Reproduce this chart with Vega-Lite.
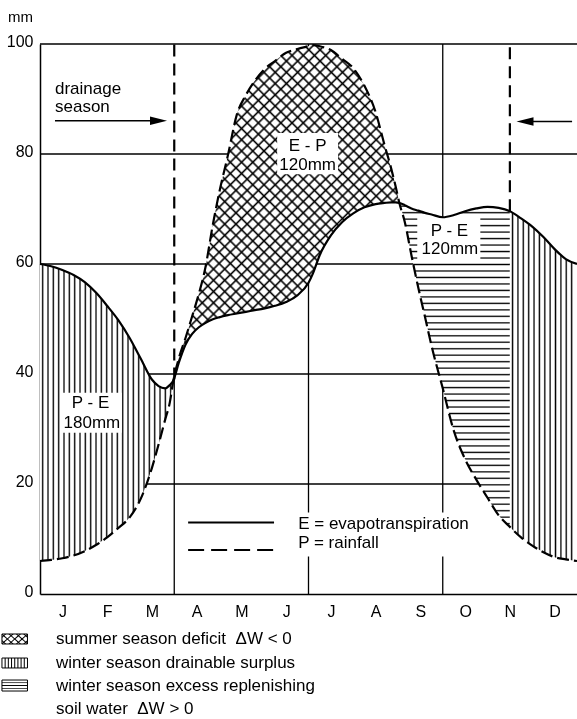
{
"$schema":"https://vega.github.io/schema/vega-lite/v6.json",
"width":537,"height":550,
"autosize":{"type":"none"},
"padding":{"left":40,"top":44,"right":0,"bottom":125},
"background":"white",
"config":{"view":{"stroke":null},"font":"Liberation Sans","axis":{"grid":false,"ticks":false,"domainColor":"black","domainWidth":1.5,"labelColor":"black","labelFont":"Liberation Sans","labelFontSize":16}},
"datasets":{
"curve":[
{"m":0,"E":60,"P":6},{"m":0.25,"E":59.6,"P":6.2},{"m":0.5,"E":58.9,"P":6.5},{"m":0.75,"E":58,"P":7},{"m":1,"E":56.7,"P":7.8},{"m":1.25,"E":54.8,"P":8.9},{"m":1.5,"E":52.4,"P":10.3},{"m":1.75,"E":49.8,"P":12},{"m":2,"E":46.6,"P":13.9},{"m":2.25,"E":42.8,"P":17.3},{"m":2.5,"E":39,"P":22.9},{"m":2.65,"E":37.8,"P":27.2},{"m":2.8,"E":37.4,"P":31.8},{"m":2.9,"E":38,"P":34.8},{"m":2.98,"E":38.8,"P":38.8},
{"m":3.1,"E":42,"P":42.8},{"m":3.25,"E":45.3,"P":46.5},{"m":3.4,"E":47.3,"P":50.5},{"m":3.55,"E":48.5,"P":54.6},{"m":3.7,"E":49.3,"P":59.5},{"m":3.85,"E":49.9,"P":66.6},{"m":4,"E":50.3,"P":72.8},{"m":4.2,"E":50.7,"P":79.8},{"m":4.4,"E":51,"P":87.2},{"m":4.6,"E":51.3,"P":90.7},{"m":4.8,"E":51.6,"P":93.3},{"m":5,"E":51.9,"P":95.3},{"m":5.25,"E":52.4,"P":96.9},{"m":5.5,"E":53.1,"P":98.4},{"m":5.75,"E":54.3,"P":99.1},{"m":6,"E":56.6,"P":99.6},{"m":6.1,"E":58.3,"P":99.8},{"m":6.25,"E":61.6,"P":99.6},{"m":6.5,"E":65.2,"P":98.9},{"m":6.75,"E":67.6,"P":97.3},{"m":7,"E":69.2,"P":95.6},{"m":7.25,"E":70.3,"P":92.4},{"m":7.5,"E":70.9,"P":87.6},{"m":7.7,"E":71.1,"P":81.6},{"m":7.85,"E":71.2,"P":77.3},{"m":7.95,"E":71.2,"P":74},{"m":8.03,"E":71.1,"P":71.1},
{"m":8.15,"E":70.7,"P":67.7},{"m":8.3,"E":70.1,"P":61.6},{"m":8.45,"E":69.7,"P":55.8},{"m":8.6,"E":69.3,"P":50.5},{"m":8.75,"E":69,"P":45.1},{"m":9,"E":68.5,"P":37.4},{"m":9.25,"E":68.9,"P":29.6},{"m":9.5,"E":69.6,"P":24.5},{"m":9.75,"E":70.1,"P":20.8},{"m":10,"E":70.4,"P":17.5},{"m":10.25,"E":70.2,"P":14.3},{"m":10.5,"E":69.6,"P":12.2},
{"m":10.75,"E":68.3,"P":10.3},{"m":11,"E":66.8,"P":8.8},{"m":11.25,"E":64.9,"P":7.6},{"m":11.5,"E":62.7,"P":6.7},{"m":11.75,"E":60.9,"P":6.3},{"m":12,"E":60,"P":6}],
"grid":[{"m":0,"m2":12,"v":100,"v2":100},{"m":0,"m2":12,"v":80,"v2":80},{"m":0,"m2":12,"v":60,"v2":60},{"m":0,"m2":12,"v":40,"v2":40},{"m":0,"m2":12,"v":20,"v2":20},{"m":3,"m2":3,"v":0,"v2":39},{"m":6,"m2":6,"v":0,"v2":100},{"m":9,"m2":9,"v":0,"v2":100}],
"dashv":[{"m":3,"m2":3,"v":39,"v2":100},{"m":10.5,"m2":10.5,"v":69.6,"v2":100}],
"arrows":[{"m":0.335,"m2":2.6,"v":86.05},{"m":10.84,"m2":11.89,"v":85.9}],
"heads":[{"dir":"right","m":2.648,"v":86.05},{"dir":"left","m":10.838,"v":85.9}],
"keys":[{"k":"E","m":3.31,"m2":5.23,"v":13},{"k":"P","m":3.31,"m2":5.23,"v":8}],
"boxes":[{"m":5.3,"m2":6.66,"v":76.3,"v2":83.8},{"m":0.49,"m2":1.83,"v":29.3,"v2":36.6},{"m":8.43,"m2":9.84,"v":60.4,"v2":68.4},{"m":5.62,"m2":9.72,"v":6.8,"v2":14.8}],
"lboxes":[{"kind":"cross","m":-0.85,"m2":-0.28,"v":-7.27,"v2":-9.09},{"kind":"vert","m":-0.85,"m2":-0.28,"v":-11.64,"v2":-13.45},{"kind":"horz","m":-0.85,"m2":-0.28,"v":-15.64,"v2":-17.64}],
"labels":[
{"t":"drainage","m":0.335,"v":91.8,"grp":"side"},
{"t":"season","m":0.335,"v":88.5,"grp":"side"},
{"t":"E = evapotranspiration","m":5.77,"v":12.8,"grp":"side"},
{"t":"P = rainfall","m":5.77,"v":9.2,"grp":"side"},
{"t":"summer season deficit\u00a0\u00a0ΔW < 0","m":0.358,"v":-8.18,"grp":"side"},
{"t":"winter season drainable surplus","m":0.358,"v":-12.55,"grp":"side"},
{"t":"winter season excess replenishing","m":0.358,"v":-16.73,"grp":"side"},
{"t":"soil water\u00a0\u00a0ΔW > 0","m":0.358,"v":-20.91,"grp":"side"},
{"t":"E - P","m":5.98,"v":81.5,"grp":"mid"},
{"t":"120mm","m":5.98,"v":78,"grp":"mid"},
{"t":"P - E","m":1.13,"v":34.7,"grp":"mid"},
{"t":"180mm","m":1.16,"v":31.1,"grp":"mid"},
{"t":"P - E","m":9.15,"v":66,"grp":"mid"},
{"t":"120mm","m":9.16,"v":62.7,"grp":"mid"}]
},
"encoding":{
"x":{"field":"m","type":"quantitative","scale":{"domain":[0,12],"nice":false,"zero":false},"axis":{"orient":"bottom","title":null,"values":[0.5,1.5,2.5,3.5,4.5,5.5,6.5,7.5,8.5,9.5,10.5,11.5],"labelExpr":"['J','F','M','A','M','J','J','A','S','O','N','D'][floor(datum.value)]","labelPadding":9,"labelFlush":false}},
"y":{"field":"v","type":"quantitative","scale":{"domain":[0,100],"nice":false,"zero":false},"axis":{"values":[0,20,40,60,80,100],"labelPadding":7,"labelOffset":-3,"labelFlush":false,"title":"mm","titleAngle":0,"titleX":-20,"titleY":-28,"titleFontSize":15,"titleFontWeight":"normal","titleAlign":"center","titleBaseline":"middle","titleFont":"Liberation Sans","titleColor":"black"}}
},
"layer":[
{"data":{"name":"grid"},"mark":{"type":"rule","color":"black","strokeWidth":1.3},"encoding":{"x2":{"field":"m2"},"y2":{"field":"v2"}}},
{"data":{"name":"curve"},"transform":[{"filter":"datum.m <= 2.98"}],"mark":{"type":"area","interpolate":"monotone","fillOpacity":1,"fill":{"gradient":"linear","x1":0,"y1":0,"x2":1,"y2":0,"stops":[
{"offset":0.01,"color":"#fff"},{"offset":0.02,"color":"#000"},{"offset":0.03,"color":"#fff"},
{"offset":0.05,"color":"#fff"},{"offset":0.06,"color":"#000"},{"offset":0.07,"color":"#fff"},
{"offset":0.09,"color":"#fff"},{"offset":0.1,"color":"#000"},{"offset":0.11,"color":"#fff"},
{"offset":0.13,"color":"#fff"},{"offset":0.14,"color":"#000"},{"offset":0.15,"color":"#fff"},
{"offset":0.17,"color":"#fff"},{"offset":0.18,"color":"#000"},{"offset":0.19,"color":"#fff"},
{"offset":0.21,"color":"#fff"},{"offset":0.22,"color":"#000"},{"offset":0.23,"color":"#fff"},
{"offset":0.25,"color":"#fff"},{"offset":0.26,"color":"#000"},{"offset":0.27,"color":"#fff"},
{"offset":0.29,"color":"#fff"},{"offset":0.3,"color":"#000"},{"offset":0.31,"color":"#fff"},
{"offset":0.33,"color":"#fff"},{"offset":0.34,"color":"#000"},{"offset":0.35,"color":"#fff"},
{"offset":0.37,"color":"#fff"},{"offset":0.38,"color":"#000"},{"offset":0.39,"color":"#fff"},
{"offset":0.41,"color":"#fff"},{"offset":0.42,"color":"#000"},{"offset":0.43,"color":"#fff"},
{"offset":0.45,"color":"#fff"},{"offset":0.46,"color":"#000"},{"offset":0.47,"color":"#fff"},
{"offset":0.49,"color":"#fff"},{"offset":0.5,"color":"#000"},{"offset":0.51,"color":"#fff"},
{"offset":0.53,"color":"#fff"},{"offset":0.54,"color":"#000"},{"offset":0.55,"color":"#fff"},
{"offset":0.57,"color":"#fff"},{"offset":0.58,"color":"#000"},{"offset":0.59,"color":"#fff"},
{"offset":0.61,"color":"#fff"},{"offset":0.62,"color":"#000"},{"offset":0.63,"color":"#fff"},
{"offset":0.65,"color":"#fff"},{"offset":0.66,"color":"#000"},{"offset":0.67,"color":"#fff"},
{"offset":0.69,"color":"#fff"},{"offset":0.7,"color":"#000"},{"offset":0.71,"color":"#fff"},
{"offset":0.73,"color":"#fff"},{"offset":0.74,"color":"#000"},{"offset":0.75,"color":"#fff"},
{"offset":0.77,"color":"#fff"},{"offset":0.78,"color":"#000"},{"offset":0.79,"color":"#fff"},
{"offset":0.81,"color":"#fff"},{"offset":0.82,"color":"#000"},{"offset":0.83,"color":"#fff"},
{"offset":0.85,"color":"#fff"},{"offset":0.86,"color":"#000"},{"offset":0.87,"color":"#fff"},
{"offset":0.89,"color":"#fff"},{"offset":0.9,"color":"#000"},{"offset":0.91,"color":"#fff"},
{"offset":0.93,"color":"#fff"},{"offset":0.94,"color":"#000"},{"offset":0.95,"color":"#fff"},
{"offset":0.97,"color":"#fff"},{"offset":0.98,"color":"#000"},{"offset":0.99,"color":"#fff"}]}},
"encoding":{"y":{"field":"E","type":"quantitative","scale":{"domain":[0,100],"nice":false,"zero":false},"axis":{"values":[0,20,40,60,80,100],"labelPadding":7,"labelOffset":-3,"labelFlush":false,"title":"mm","titleAngle":0,"titleX":-20,"titleY":-28,"titleFontSize":15,"titleFontWeight":"normal","titleAlign":"center","titleBaseline":"middle","titleFont":"Liberation Sans","titleColor":"black"}},"y2":{"field":"P"}}},
{"data":{"name":"curve"},"transform":[{"filter":"datum.m >= 2.98 && datum.m <= 8.03"}],"mark":{"type":"area","interpolate":"monotone","fillOpacity":1,"fill":{"gradient":"linear","x1":0,"y1":0,"x2":0.777,"y2":1.151,"stops":[
{"offset":0.006,"color":"#fff"},{"offset":0.01,"color":"#000"},{"offset":0.014,"color":"#fff"},
{"offset":0.026,"color":"#fff"},{"offset":0.03,"color":"#000"},{"offset":0.034,"color":"#fff"},
{"offset":0.046,"color":"#fff"},{"offset":0.05,"color":"#000"},{"offset":0.054,"color":"#fff"},
{"offset":0.066,"color":"#fff"},{"offset":0.07,"color":"#000"},{"offset":0.074,"color":"#fff"},
{"offset":0.086,"color":"#fff"},{"offset":0.09,"color":"#000"},{"offset":0.094,"color":"#fff"},
{"offset":0.106,"color":"#fff"},{"offset":0.11,"color":"#000"},{"offset":0.114,"color":"#fff"},
{"offset":0.126,"color":"#fff"},{"offset":0.13,"color":"#000"},{"offset":0.134,"color":"#fff"},
{"offset":0.146,"color":"#fff"},{"offset":0.15,"color":"#000"},{"offset":0.154,"color":"#fff"},
{"offset":0.166,"color":"#fff"},{"offset":0.17,"color":"#000"},{"offset":0.174,"color":"#fff"},
{"offset":0.186,"color":"#fff"},{"offset":0.19,"color":"#000"},{"offset":0.194,"color":"#fff"},
{"offset":0.206,"color":"#fff"},{"offset":0.21,"color":"#000"},{"offset":0.214,"color":"#fff"},
{"offset":0.226,"color":"#fff"},{"offset":0.23,"color":"#000"},{"offset":0.234,"color":"#fff"},
{"offset":0.246,"color":"#fff"},{"offset":0.25,"color":"#000"},{"offset":0.254,"color":"#fff"},
{"offset":0.266,"color":"#fff"},{"offset":0.27,"color":"#000"},{"offset":0.274,"color":"#fff"},
{"offset":0.286,"color":"#fff"},{"offset":0.29,"color":"#000"},{"offset":0.294,"color":"#fff"},
{"offset":0.306,"color":"#fff"},{"offset":0.31,"color":"#000"},{"offset":0.314,"color":"#fff"},
{"offset":0.326,"color":"#fff"},{"offset":0.33,"color":"#000"},{"offset":0.334,"color":"#fff"},
{"offset":0.346,"color":"#fff"},{"offset":0.35,"color":"#000"},{"offset":0.354,"color":"#fff"},
{"offset":0.366,"color":"#fff"},{"offset":0.37,"color":"#000"},{"offset":0.374,"color":"#fff"},
{"offset":0.386,"color":"#fff"},{"offset":0.39,"color":"#000"},{"offset":0.394,"color":"#fff"},
{"offset":0.406,"color":"#fff"},{"offset":0.41,"color":"#000"},{"offset":0.414,"color":"#fff"},
{"offset":0.426,"color":"#fff"},{"offset":0.43,"color":"#000"},{"offset":0.434,"color":"#fff"},
{"offset":0.446,"color":"#fff"},{"offset":0.45,"color":"#000"},{"offset":0.454,"color":"#fff"},
{"offset":0.466,"color":"#fff"},{"offset":0.47,"color":"#000"},{"offset":0.474,"color":"#fff"},
{"offset":0.486,"color":"#fff"},{"offset":0.49,"color":"#000"},{"offset":0.494,"color":"#fff"},
{"offset":0.506,"color":"#fff"},{"offset":0.51,"color":"#000"},{"offset":0.514,"color":"#fff"},
{"offset":0.526,"color":"#fff"},{"offset":0.53,"color":"#000"},{"offset":0.534,"color":"#fff"},
{"offset":0.546,"color":"#fff"},{"offset":0.55,"color":"#000"},{"offset":0.554,"color":"#fff"},
{"offset":0.566,"color":"#fff"},{"offset":0.57,"color":"#000"},{"offset":0.574,"color":"#fff"},
{"offset":0.586,"color":"#fff"},{"offset":0.59,"color":"#000"},{"offset":0.594,"color":"#fff"},
{"offset":0.606,"color":"#fff"},{"offset":0.61,"color":"#000"},{"offset":0.614,"color":"#fff"},
{"offset":0.626,"color":"#fff"},{"offset":0.63,"color":"#000"},{"offset":0.634,"color":"#fff"},
{"offset":0.646,"color":"#fff"},{"offset":0.65,"color":"#000"},{"offset":0.654,"color":"#fff"},
{"offset":0.666,"color":"#fff"},{"offset":0.67,"color":"#000"},{"offset":0.674,"color":"#fff"},
{"offset":0.686,"color":"#fff"},{"offset":0.69,"color":"#000"},{"offset":0.694,"color":"#fff"},
{"offset":0.706,"color":"#fff"},{"offset":0.71,"color":"#000"},{"offset":0.714,"color":"#fff"},
{"offset":0.726,"color":"#fff"},{"offset":0.73,"color":"#000"},{"offset":0.734,"color":"#fff"},
{"offset":0.746,"color":"#fff"},{"offset":0.75,"color":"#000"},{"offset":0.754,"color":"#fff"},
{"offset":0.766,"color":"#fff"},{"offset":0.77,"color":"#000"},{"offset":0.774,"color":"#fff"},
{"offset":0.786,"color":"#fff"},{"offset":0.79,"color":"#000"},{"offset":0.794,"color":"#fff"},
{"offset":0.806,"color":"#fff"},{"offset":0.81,"color":"#000"},{"offset":0.814,"color":"#fff"},
{"offset":0.826,"color":"#fff"},{"offset":0.83,"color":"#000"},{"offset":0.834,"color":"#fff"},
{"offset":0.846,"color":"#fff"},{"offset":0.85,"color":"#000"},{"offset":0.854,"color":"#fff"},
{"offset":0.866,"color":"#fff"},{"offset":0.87,"color":"#000"},{"offset":0.874,"color":"#fff"},
{"offset":0.886,"color":"#fff"},{"offset":0.89,"color":"#000"},{"offset":0.894,"color":"#fff"},
{"offset":0.906,"color":"#fff"},{"offset":0.91,"color":"#000"},{"offset":0.914,"color":"#fff"},
{"offset":0.926,"color":"#fff"},{"offset":0.93,"color":"#000"},{"offset":0.934,"color":"#fff"},
{"offset":0.946,"color":"#fff"},{"offset":0.95,"color":"#000"},{"offset":0.954,"color":"#fff"},
{"offset":0.966,"color":"#fff"},{"offset":0.97,"color":"#000"},{"offset":0.974,"color":"#fff"},
{"offset":0.986,"color":"#fff"},{"offset":0.99,"color":"#000"},{"offset":0.994,"color":"#fff"}]}},
"encoding":{"y":{"field":"E","type":"quantitative","scale":{"domain":[0,100],"nice":false,"zero":false},"axis":{"values":[0,20,40,60,80,100],"labelPadding":7,"labelOffset":-3,"labelFlush":false,"title":"mm","titleAngle":0,"titleX":-20,"titleY":-28,"titleFontSize":15,"titleFontWeight":"normal","titleAlign":"center","titleBaseline":"middle","titleFont":"Liberation Sans","titleColor":"black"}},"y2":{"field":"P"}}},
{"data":{"name":"curve"},"transform":[{"filter":"datum.m >= 2.98 && datum.m <= 8.03"}],"mark":{"type":"area","interpolate":"monotone","fillOpacity":1,"blend":"multiply","fill":{"gradient":"linear","x1":0,"y1":1,"x2":0.777,"y2":-0.151,"stops":[
{"offset":0.006,"color":"#fff"},{"offset":0.01,"color":"#000"},{"offset":0.014,"color":"#fff"},
{"offset":0.026,"color":"#fff"},{"offset":0.03,"color":"#000"},{"offset":0.034,"color":"#fff"},
{"offset":0.046,"color":"#fff"},{"offset":0.05,"color":"#000"},{"offset":0.054,"color":"#fff"},
{"offset":0.066,"color":"#fff"},{"offset":0.07,"color":"#000"},{"offset":0.074,"color":"#fff"},
{"offset":0.086,"color":"#fff"},{"offset":0.09,"color":"#000"},{"offset":0.094,"color":"#fff"},
{"offset":0.106,"color":"#fff"},{"offset":0.11,"color":"#000"},{"offset":0.114,"color":"#fff"},
{"offset":0.126,"color":"#fff"},{"offset":0.13,"color":"#000"},{"offset":0.134,"color":"#fff"},
{"offset":0.146,"color":"#fff"},{"offset":0.15,"color":"#000"},{"offset":0.154,"color":"#fff"},
{"offset":0.166,"color":"#fff"},{"offset":0.17,"color":"#000"},{"offset":0.174,"color":"#fff"},
{"offset":0.186,"color":"#fff"},{"offset":0.19,"color":"#000"},{"offset":0.194,"color":"#fff"},
{"offset":0.206,"color":"#fff"},{"offset":0.21,"color":"#000"},{"offset":0.214,"color":"#fff"},
{"offset":0.226,"color":"#fff"},{"offset":0.23,"color":"#000"},{"offset":0.234,"color":"#fff"},
{"offset":0.246,"color":"#fff"},{"offset":0.25,"color":"#000"},{"offset":0.254,"color":"#fff"},
{"offset":0.266,"color":"#fff"},{"offset":0.27,"color":"#000"},{"offset":0.274,"color":"#fff"},
{"offset":0.286,"color":"#fff"},{"offset":0.29,"color":"#000"},{"offset":0.294,"color":"#fff"},
{"offset":0.306,"color":"#fff"},{"offset":0.31,"color":"#000"},{"offset":0.314,"color":"#fff"},
{"offset":0.326,"color":"#fff"},{"offset":0.33,"color":"#000"},{"offset":0.334,"color":"#fff"},
{"offset":0.346,"color":"#fff"},{"offset":0.35,"color":"#000"},{"offset":0.354,"color":"#fff"},
{"offset":0.366,"color":"#fff"},{"offset":0.37,"color":"#000"},{"offset":0.374,"color":"#fff"},
{"offset":0.386,"color":"#fff"},{"offset":0.39,"color":"#000"},{"offset":0.394,"color":"#fff"},
{"offset":0.406,"color":"#fff"},{"offset":0.41,"color":"#000"},{"offset":0.414,"color":"#fff"},
{"offset":0.426,"color":"#fff"},{"offset":0.43,"color":"#000"},{"offset":0.434,"color":"#fff"},
{"offset":0.446,"color":"#fff"},{"offset":0.45,"color":"#000"},{"offset":0.454,"color":"#fff"},
{"offset":0.466,"color":"#fff"},{"offset":0.47,"color":"#000"},{"offset":0.474,"color":"#fff"},
{"offset":0.486,"color":"#fff"},{"offset":0.49,"color":"#000"},{"offset":0.494,"color":"#fff"},
{"offset":0.506,"color":"#fff"},{"offset":0.51,"color":"#000"},{"offset":0.514,"color":"#fff"},
{"offset":0.526,"color":"#fff"},{"offset":0.53,"color":"#000"},{"offset":0.534,"color":"#fff"},
{"offset":0.546,"color":"#fff"},{"offset":0.55,"color":"#000"},{"offset":0.554,"color":"#fff"},
{"offset":0.566,"color":"#fff"},{"offset":0.57,"color":"#000"},{"offset":0.574,"color":"#fff"},
{"offset":0.586,"color":"#fff"},{"offset":0.59,"color":"#000"},{"offset":0.594,"color":"#fff"},
{"offset":0.606,"color":"#fff"},{"offset":0.61,"color":"#000"},{"offset":0.614,"color":"#fff"},
{"offset":0.626,"color":"#fff"},{"offset":0.63,"color":"#000"},{"offset":0.634,"color":"#fff"},
{"offset":0.646,"color":"#fff"},{"offset":0.65,"color":"#000"},{"offset":0.654,"color":"#fff"},
{"offset":0.666,"color":"#fff"},{"offset":0.67,"color":"#000"},{"offset":0.674,"color":"#fff"},
{"offset":0.686,"color":"#fff"},{"offset":0.69,"color":"#000"},{"offset":0.694,"color":"#fff"},
{"offset":0.706,"color":"#fff"},{"offset":0.71,"color":"#000"},{"offset":0.714,"color":"#fff"},
{"offset":0.726,"color":"#fff"},{"offset":0.73,"color":"#000"},{"offset":0.734,"color":"#fff"},
{"offset":0.746,"color":"#fff"},{"offset":0.75,"color":"#000"},{"offset":0.754,"color":"#fff"},
{"offset":0.766,"color":"#fff"},{"offset":0.77,"color":"#000"},{"offset":0.774,"color":"#fff"},
{"offset":0.786,"color":"#fff"},{"offset":0.79,"color":"#000"},{"offset":0.794,"color":"#fff"},
{"offset":0.806,"color":"#fff"},{"offset":0.81,"color":"#000"},{"offset":0.814,"color":"#fff"},
{"offset":0.826,"color":"#fff"},{"offset":0.83,"color":"#000"},{"offset":0.834,"color":"#fff"},
{"offset":0.846,"color":"#fff"},{"offset":0.85,"color":"#000"},{"offset":0.854,"color":"#fff"},
{"offset":0.866,"color":"#fff"},{"offset":0.87,"color":"#000"},{"offset":0.874,"color":"#fff"},
{"offset":0.886,"color":"#fff"},{"offset":0.89,"color":"#000"},{"offset":0.894,"color":"#fff"},
{"offset":0.906,"color":"#fff"},{"offset":0.91,"color":"#000"},{"offset":0.914,"color":"#fff"},
{"offset":0.926,"color":"#fff"},{"offset":0.93,"color":"#000"},{"offset":0.934,"color":"#fff"},
{"offset":0.946,"color":"#fff"},{"offset":0.95,"color":"#000"},{"offset":0.954,"color":"#fff"},
{"offset":0.966,"color":"#fff"},{"offset":0.97,"color":"#000"},{"offset":0.974,"color":"#fff"},
{"offset":0.986,"color":"#fff"},{"offset":0.99,"color":"#000"},{"offset":0.994,"color":"#fff"}]}},
"encoding":{"y":{"field":"E","type":"quantitative","scale":{"domain":[0,100],"nice":false,"zero":false},"axis":{"values":[0,20,40,60,80,100],"labelPadding":7,"labelOffset":-3,"labelFlush":false,"title":"mm","titleAngle":0,"titleX":-20,"titleY":-28,"titleFontSize":15,"titleFontWeight":"normal","titleAlign":"center","titleBaseline":"middle","titleFont":"Liberation Sans","titleColor":"black"}},"y2":{"field":"P"}}},
{"data":{"name":"curve"},"transform":[{"filter":"datum.m >= 8.03 && datum.m <= 10.5"}],"mark":{"type":"area","interpolate":"monotone","fillOpacity":1,"fill":{"gradient":"linear","x1":0,"y1":0,"x2":0,"y2":1,"stops":[
{"offset":0.006,"color":"#fff"},{"offset":0.01,"color":"#000"},{"offset":0.014,"color":"#fff"},
{"offset":0.026,"color":"#fff"},{"offset":0.03,"color":"#000"},{"offset":0.034,"color":"#fff"},
{"offset":0.046,"color":"#fff"},{"offset":0.05,"color":"#000"},{"offset":0.054,"color":"#fff"},
{"offset":0.066,"color":"#fff"},{"offset":0.07,"color":"#000"},{"offset":0.074,"color":"#fff"},
{"offset":0.086,"color":"#fff"},{"offset":0.09,"color":"#000"},{"offset":0.094,"color":"#fff"},
{"offset":0.106,"color":"#fff"},{"offset":0.11,"color":"#000"},{"offset":0.114,"color":"#fff"},
{"offset":0.126,"color":"#fff"},{"offset":0.13,"color":"#000"},{"offset":0.134,"color":"#fff"},
{"offset":0.146,"color":"#fff"},{"offset":0.15,"color":"#000"},{"offset":0.154,"color":"#fff"},
{"offset":0.166,"color":"#fff"},{"offset":0.17,"color":"#000"},{"offset":0.174,"color":"#fff"},
{"offset":0.186,"color":"#fff"},{"offset":0.19,"color":"#000"},{"offset":0.194,"color":"#fff"},
{"offset":0.206,"color":"#fff"},{"offset":0.21,"color":"#000"},{"offset":0.214,"color":"#fff"},
{"offset":0.226,"color":"#fff"},{"offset":0.23,"color":"#000"},{"offset":0.234,"color":"#fff"},
{"offset":0.246,"color":"#fff"},{"offset":0.25,"color":"#000"},{"offset":0.254,"color":"#fff"},
{"offset":0.266,"color":"#fff"},{"offset":0.27,"color":"#000"},{"offset":0.274,"color":"#fff"},
{"offset":0.286,"color":"#fff"},{"offset":0.29,"color":"#000"},{"offset":0.294,"color":"#fff"},
{"offset":0.306,"color":"#fff"},{"offset":0.31,"color":"#000"},{"offset":0.314,"color":"#fff"},
{"offset":0.326,"color":"#fff"},{"offset":0.33,"color":"#000"},{"offset":0.334,"color":"#fff"},
{"offset":0.346,"color":"#fff"},{"offset":0.35,"color":"#000"},{"offset":0.354,"color":"#fff"},
{"offset":0.366,"color":"#fff"},{"offset":0.37,"color":"#000"},{"offset":0.374,"color":"#fff"},
{"offset":0.386,"color":"#fff"},{"offset":0.39,"color":"#000"},{"offset":0.394,"color":"#fff"},
{"offset":0.406,"color":"#fff"},{"offset":0.41,"color":"#000"},{"offset":0.414,"color":"#fff"},
{"offset":0.426,"color":"#fff"},{"offset":0.43,"color":"#000"},{"offset":0.434,"color":"#fff"},
{"offset":0.446,"color":"#fff"},{"offset":0.45,"color":"#000"},{"offset":0.454,"color":"#fff"},
{"offset":0.466,"color":"#fff"},{"offset":0.47,"color":"#000"},{"offset":0.474,"color":"#fff"},
{"offset":0.486,"color":"#fff"},{"offset":0.49,"color":"#000"},{"offset":0.494,"color":"#fff"},
{"offset":0.506,"color":"#fff"},{"offset":0.51,"color":"#000"},{"offset":0.514,"color":"#fff"},
{"offset":0.526,"color":"#fff"},{"offset":0.53,"color":"#000"},{"offset":0.534,"color":"#fff"},
{"offset":0.546,"color":"#fff"},{"offset":0.55,"color":"#000"},{"offset":0.554,"color":"#fff"},
{"offset":0.566,"color":"#fff"},{"offset":0.57,"color":"#000"},{"offset":0.574,"color":"#fff"},
{"offset":0.586,"color":"#fff"},{"offset":0.59,"color":"#000"},{"offset":0.594,"color":"#fff"},
{"offset":0.606,"color":"#fff"},{"offset":0.61,"color":"#000"},{"offset":0.614,"color":"#fff"},
{"offset":0.626,"color":"#fff"},{"offset":0.63,"color":"#000"},{"offset":0.634,"color":"#fff"},
{"offset":0.646,"color":"#fff"},{"offset":0.65,"color":"#000"},{"offset":0.654,"color":"#fff"},
{"offset":0.666,"color":"#fff"},{"offset":0.67,"color":"#000"},{"offset":0.674,"color":"#fff"},
{"offset":0.686,"color":"#fff"},{"offset":0.69,"color":"#000"},{"offset":0.694,"color":"#fff"},
{"offset":0.706,"color":"#fff"},{"offset":0.71,"color":"#000"},{"offset":0.714,"color":"#fff"},
{"offset":0.726,"color":"#fff"},{"offset":0.73,"color":"#000"},{"offset":0.734,"color":"#fff"},
{"offset":0.746,"color":"#fff"},{"offset":0.75,"color":"#000"},{"offset":0.754,"color":"#fff"},
{"offset":0.766,"color":"#fff"},{"offset":0.77,"color":"#000"},{"offset":0.774,"color":"#fff"},
{"offset":0.786,"color":"#fff"},{"offset":0.79,"color":"#000"},{"offset":0.794,"color":"#fff"},
{"offset":0.806,"color":"#fff"},{"offset":0.81,"color":"#000"},{"offset":0.814,"color":"#fff"},
{"offset":0.826,"color":"#fff"},{"offset":0.83,"color":"#000"},{"offset":0.834,"color":"#fff"},
{"offset":0.846,"color":"#fff"},{"offset":0.85,"color":"#000"},{"offset":0.854,"color":"#fff"},
{"offset":0.866,"color":"#fff"},{"offset":0.87,"color":"#000"},{"offset":0.874,"color":"#fff"},
{"offset":0.886,"color":"#fff"},{"offset":0.89,"color":"#000"},{"offset":0.894,"color":"#fff"},
{"offset":0.906,"color":"#fff"},{"offset":0.91,"color":"#000"},{"offset":0.914,"color":"#fff"},
{"offset":0.926,"color":"#fff"},{"offset":0.93,"color":"#000"},{"offset":0.934,"color":"#fff"},
{"offset":0.946,"color":"#fff"},{"offset":0.95,"color":"#000"},{"offset":0.954,"color":"#fff"},
{"offset":0.966,"color":"#fff"},{"offset":0.97,"color":"#000"},{"offset":0.974,"color":"#fff"},
{"offset":0.986,"color":"#fff"},{"offset":0.99,"color":"#000"},{"offset":0.994,"color":"#fff"}]}},
"encoding":{"y":{"field":"E","type":"quantitative","scale":{"domain":[0,100],"nice":false,"zero":false},"axis":{"values":[0,20,40,60,80,100],"labelPadding":7,"labelOffset":-3,"labelFlush":false,"title":"mm","titleAngle":0,"titleX":-20,"titleY":-28,"titleFontSize":15,"titleFontWeight":"normal","titleAlign":"center","titleBaseline":"middle","titleFont":"Liberation Sans","titleColor":"black"}},"y2":{"field":"P"}}},
{"data":{"name":"curve"},"transform":[{"filter":"datum.m >= 10.5"}],"mark":{"type":"area","interpolate":"monotone","fillOpacity":1,"fill":{"gradient":"linear","x1":0,"y1":0,"x2":1,"y2":0,"stops":[
{"offset":0.02,"color":"#fff"},{"offset":0.04,"color":"#000"},{"offset":0.06,"color":"#fff"},
{"offset":0.1,"color":"#fff"},{"offset":0.12,"color":"#000"},{"offset":0.14,"color":"#fff"},
{"offset":0.18,"color":"#fff"},{"offset":0.2,"color":"#000"},{"offset":0.22,"color":"#fff"},
{"offset":0.26,"color":"#fff"},{"offset":0.28,"color":"#000"},{"offset":0.3,"color":"#fff"},
{"offset":0.34,"color":"#fff"},{"offset":0.36,"color":"#000"},{"offset":0.38,"color":"#fff"},
{"offset":0.42,"color":"#fff"},{"offset":0.44,"color":"#000"},{"offset":0.46,"color":"#fff"},
{"offset":0.5,"color":"#fff"},{"offset":0.52,"color":"#000"},{"offset":0.54,"color":"#fff"},
{"offset":0.58,"color":"#fff"},{"offset":0.6,"color":"#000"},{"offset":0.62,"color":"#fff"},
{"offset":0.66,"color":"#fff"},{"offset":0.68,"color":"#000"},{"offset":0.7,"color":"#fff"},
{"offset":0.74,"color":"#fff"},{"offset":0.76,"color":"#000"},{"offset":0.78,"color":"#fff"},
{"offset":0.82,"color":"#fff"},{"offset":0.84,"color":"#000"},{"offset":0.86,"color":"#fff"},
{"offset":0.9,"color":"#fff"},{"offset":0.92,"color":"#000"},{"offset":0.94,"color":"#fff"}]}},
"encoding":{"y":{"field":"E","type":"quantitative","scale":{"domain":[0,100],"nice":false,"zero":false},"axis":{"values":[0,20,40,60,80,100],"labelPadding":7,"labelOffset":-3,"labelFlush":false,"title":"mm","titleAngle":0,"titleX":-20,"titleY":-28,"titleFontSize":15,"titleFontWeight":"normal","titleAlign":"center","titleBaseline":"middle","titleFont":"Liberation Sans","titleColor":"black"}},"y2":{"field":"P"}}},
{"data":{"name":"boxes"},"mark":{"type":"rect","fill":"white","stroke":null},"encoding":{"x2":{"field":"m2"},"y2":{"field":"v2"}}},
{"data":{"name":"curve"},"mark":{"type":"line","interpolate":"monotone","color":"black","strokeWidth":2.2},"encoding":{"y":{"field":"E","type":"quantitative","scale":{"domain":[0,100],"nice":false,"zero":false},"axis":{"values":[0,20,40,60,80,100],"labelPadding":7,"labelOffset":-3,"labelFlush":false,"title":"mm","titleAngle":0,"titleX":-20,"titleY":-28,"titleFontSize":15,"titleFontWeight":"normal","titleAlign":"center","titleBaseline":"middle","titleFont":"Liberation Sans","titleColor":"black"}}}},
{"data":{"name":"curve"},"mark":{"type":"line","interpolate":"monotone","color":"black","strokeWidth":2.2,"strokeDash":[12,5]},"encoding":{"y":{"field":"P","type":"quantitative","scale":{"domain":[0,100],"nice":false,"zero":false},"axis":{"values":[0,20,40,60,80,100],"labelPadding":7,"labelOffset":-3,"labelFlush":false,"title":"mm","titleAngle":0,"titleX":-20,"titleY":-28,"titleFontSize":15,"titleFontWeight":"normal","titleAlign":"center","titleBaseline":"middle","titleFont":"Liberation Sans","titleColor":"black"}}}},
{"data":{"name":"dashv"},"mark":{"type":"rule","color":"black","strokeWidth":2.2,"strokeDash":[12,7]},"encoding":{"x2":{"field":"m2"},"y2":{"field":"v2"}}},
{"data":{"name":"arrows"},"mark":{"type":"rule","color":"black","strokeWidth":1.6},"encoding":{"x2":{"field":"m2"}}},
{"data":{"name":"heads"},"transform":[{"filter":"datum.dir == 'right'"}],"mark":{"type":"point","shape":"M-1,-0.5L1,0L-1,0.5Z","size":289,"filled":true,"fill":"black","stroke":null,"opacity":1}},
{"data":{"name":"heads"},"transform":[{"filter":"datum.dir == 'left'"}],"mark":{"type":"point","shape":"M1,-0.5L-1,0L1,0.5Z","size":289,"filled":true,"fill":"black","stroke":null,"opacity":1}},
{"data":{"name":"keys"},"transform":[{"filter":"datum.k == 'E'"}],"mark":{"type":"rule","color":"black","strokeWidth":2.2},"encoding":{"x2":{"field":"m2"}}},
{"data":{"name":"keys"},"transform":[{"filter":"datum.k == 'P'"}],"mark":{"type":"rule","color":"black","strokeWidth":2.2,"strokeDash":[16,7]},"encoding":{"x2":{"field":"m2"}}},
{"data":{"name":"labels"},"transform":[{"filter":"datum.grp == 'side'"}],"mark":{"type":"text","align":"left","baseline":"middle","fontSize":17,"color":"black","font":"Liberation Sans"},"encoding":{"text":{"field":"t"}}},
{"data":{"name":"labels"},"transform":[{"filter":"datum.grp == 'mid'"}],"mark":{"type":"text","align":"center","baseline":"middle","fontSize":17,"color":"black","font":"Liberation Sans"},"encoding":{"text":{"field":"t"}}},
{"data":{"name":"lboxes"},"transform":[{"filter":"datum.kind == 'cross'"}],"mark":{"type":"rect","stroke":"black","strokeWidth":1,"fillOpacity":1,"fill":{"gradient":"linear","x1":0,"y1":0,"x2":1.207,"y2":0.531,"stops":[
{"offset":0.06,"color":"#fff"},{"offset":0.1,"color":"#000"},{"offset":0.14,"color":"#fff"},
{"offset":0.26,"color":"#fff"},{"offset":0.3,"color":"#000"},{"offset":0.34,"color":"#fff"},
{"offset":0.46,"color":"#fff"},{"offset":0.5,"color":"#000"},{"offset":0.54,"color":"#fff"},
{"offset":0.66,"color":"#fff"},{"offset":0.7,"color":"#000"},{"offset":0.74,"color":"#fff"},
{"offset":0.86,"color":"#fff"},{"offset":0.9,"color":"#000"},{"offset":0.94,"color":"#fff"}]}},"encoding":{"x2":{"field":"m2"},"y2":{"field":"v2"}}},
{"data":{"name":"lboxes"},"transform":[{"filter":"datum.kind == 'cross'"}],"mark":{"type":"rect","stroke":null,"blend":"multiply","fillOpacity":1,"fill":{"gradient":"linear","x1":0,"y1":1,"x2":1.207,"y2":0.469,"stops":[
{"offset":0.06,"color":"#fff"},{"offset":0.1,"color":"#000"},{"offset":0.14,"color":"#fff"},
{"offset":0.26,"color":"#fff"},{"offset":0.3,"color":"#000"},{"offset":0.34,"color":"#fff"},
{"offset":0.46,"color":"#fff"},{"offset":0.5,"color":"#000"},{"offset":0.54,"color":"#fff"},
{"offset":0.66,"color":"#fff"},{"offset":0.7,"color":"#000"},{"offset":0.74,"color":"#fff"},
{"offset":0.86,"color":"#fff"},{"offset":0.9,"color":"#000"},{"offset":0.94,"color":"#fff"}]}},"encoding":{"x2":{"field":"m2"},"y2":{"field":"v2"}}},
{"data":{"name":"lboxes"},"transform":[{"filter":"datum.kind == 'vert'"}],"mark":{"type":"rect","stroke":"black","strokeWidth":1,"fillOpacity":1,"fill":{"gradient":"linear","x1":0,"y1":0,"x2":1,"y2":0,"stops":[
{"offset":0.085,"color":"#fff"},{"offset":0.125,"color":"#000"},{"offset":0.165,"color":"#fff"},
{"offset":0.21,"color":"#fff"},{"offset":0.25,"color":"#000"},{"offset":0.29,"color":"#fff"},
{"offset":0.335,"color":"#fff"},{"offset":0.375,"color":"#000"},{"offset":0.415,"color":"#fff"},
{"offset":0.46,"color":"#fff"},{"offset":0.5,"color":"#000"},{"offset":0.54,"color":"#fff"},
{"offset":0.585,"color":"#fff"},{"offset":0.625,"color":"#000"},{"offset":0.665,"color":"#fff"},
{"offset":0.71,"color":"#fff"},{"offset":0.75,"color":"#000"},{"offset":0.79,"color":"#fff"},
{"offset":0.835,"color":"#fff"},{"offset":0.875,"color":"#000"},{"offset":0.915,"color":"#fff"}]}},"encoding":{"x2":{"field":"m2"},"y2":{"field":"v2"}}},
{"data":{"name":"lboxes"},"transform":[{"filter":"datum.kind == 'horz'"}],"mark":{"type":"rect","stroke":"black","strokeWidth":1,"fillOpacity":1,"fill":{"gradient":"linear","x1":0,"y1":0,"x2":0,"y2":1,"stops":[
{"offset":0.18,"color":"#fff"},{"offset":0.25,"color":"#000"},{"offset":0.32,"color":"#fff"},
{"offset":0.43,"color":"#fff"},{"offset":0.5,"color":"#000"},{"offset":0.57,"color":"#fff"},
{"offset":0.68,"color":"#fff"},{"offset":0.75,"color":"#000"},{"offset":0.82,"color":"#fff"}]}},"encoding":{"x2":{"field":"m2"},"y2":{"field":"v2"}}}
]
}
